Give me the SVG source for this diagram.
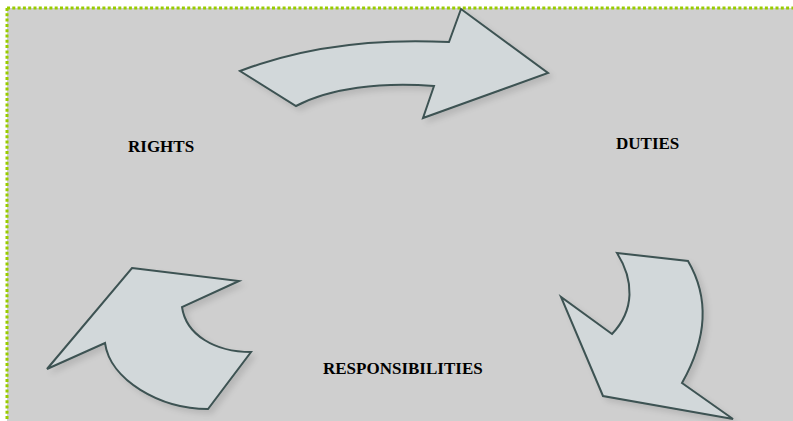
<svg xmlns="http://www.w3.org/2000/svg" width="793" height="421" viewBox="0 0 793 421">
  <style>
    .arrow { fill: #d2d8da; stroke: #3e5353; stroke-width: 2; stroke-linejoin: miter; }
    .label { font-family: "Liberation Serif", "Times New Roman", serif; font-weight: bold; font-size: 17px; fill: #000; }
  </style>
  <defs>
    <filter id="shade" x="-10%" y="-10%" width="130%" height="130%">
      <feGaussianBlur in="SourceAlpha" stdDeviation="3"/>
      <feOffset dx="4" dy="4" result="b"/>
      <feComponentTransfer><feFuncA type="linear" slope="0.12"/></feComponentTransfer>
      <feMerge><feMergeNode/><feMergeNode in="SourceGraphic"/></feMerge>
    </filter>
  </defs>

  <!-- page background and dotted frame -->
  <rect x="0" y="0" width="793" height="421" fill="#ffffff"/>
  <rect x="7" y="8" width="800" height="430" fill="#cfcfcf"/>
  <g fill="none" stroke="#99cc00" stroke-width="3" stroke-dasharray="3 2.3">
    <line x1="7" y1="8" x2="793" y2="8"/>
    <line x1="7" y1="8" x2="7" y2="421"/>
  </g>

  <!-- cycle arrows -->
  <g id="connectors">
    <g id="arrow-rights-duties" filter="url(#shade)">
      <path class="arrow" d="M240,71 C300,48 370,38 449,42 L461,9 L548,73 L423,118 L434,86 C380,82 330,88 296,106 Z"/>
    </g>
    <g id="arrow-duties-responsibilities" filter="url(#shade)">
      <path class="arrow" d="M617,253 L688,261 C705,290 712,330 682,383 L733,419 L603,396 L561,297 L612,334 C635,310 634,280 617,253 Z"/>
    </g>
    <g id="arrow-responsibilities-rights" filter="url(#shade)">
      <path class="arrow" d="M132,268 L239,281 L182,307 C186,335 215,352 251,352 L208,409 C160,409 110,380 105,343 L47,369 Z"/>
    </g>
  </g>

  <!-- labels -->
  <g id="rights"><text class="label" x="128" y="152">RIGHTS</text></g>
  <g id="duties"><text class="label" x="616" y="149">DUTIES</text></g>
  <g id="responsibilities"><text class="label" x="323" y="374">RESPONSIBILITIES</text></g>
</svg>
